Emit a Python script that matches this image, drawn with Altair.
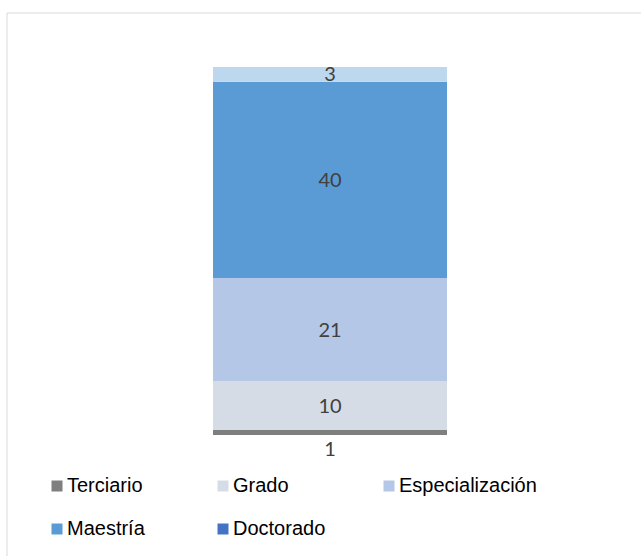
import altair as alt
import pandas as pd

categories = ["Terciario", "Grado", "Especialización", "Maestría", "Otro"]
values = [1, 10, 21, 40, 3]
legend_names = ["Terciario", "Grado", "Especialización", "Maestría", "Doctorado"]
domain = ["Terciario", "Grado", "Especialización", "Maestría", "Doctorado", "Otro"]
colors = ["#7F7F7F", "#D6DCE5", "#B4C7E7", "#5B9BD5", "#4472C4", "#BDD7EE"]

df = pd.DataFrame({"cat": categories, "value": values, "ord": list(range(len(categories)))})

base = (
    alt.Chart(df)
    .transform_calculate(grp="'all'")
    .transform_stack(stack="value", groupby=["grp"],
                     sort=[alt.SortField("ord", order="ascending")], as_=["y0", "y1"])
    .transform_calculate(mid="(datum.y0 + datum.y1) / 2")
)

xenc = alt.X("grp:N", axis=None, scale=alt.Scale(paddingInner=0, paddingOuter=0))
yscale = alt.Scale(domain=[0, 75], nice=False, zero=True)

bars = base.mark_bar(strokeWidth=0).encode(
    x=xenc,
    y=alt.Y("y0:Q", axis=None, scale=yscale),
    y2="y1:Q",
    color=alt.Color(
        "cat:N",
        scale=alt.Scale(domain=domain, range=colors),
        legend=alt.Legend(
            values=legend_names, title=None, orient="none",
            legendX=-166, legendY=409, columns=3, direction="horizontal",
            labelFont="Liberation Sans", labelFontSize=20, labelColor="#000000",
            symbolType="square", symbolSize=121, symbolStrokeWidth=0,
            labelOffset=0, columnPadding=8, rowPadding=23, gridAlign="all",
            labelLimit=300,
        ),
    ),
)

labels = base.transform_filter("datum.value >= 2").mark_text(
    font="Lato", fontSize=20, color="#404040", baseline="middle", align="center", dy=1
).encode(x=xenc, y=alt.Y("mid:Q", scale=yscale), text="value:Q")

low_label = base.transform_filter("datum.value < 2").mark_text(
    font="Lato", fontSize=20, color="#404040", baseline="middle", align="center", dy=15
).encode(x=xenc, y=alt.Y("y0:Q", scale=yscale), text="value:Q")

frame_df = pd.DataFrame({"a": [0]})
top_rule = alt.Chart(frame_df).mark_rule(color="#D9D9D9", strokeWidth=1).encode(
    x=alt.value(-206), x2=alt.value(428), y=alt.value(-54)
)
left_rule = alt.Chart(frame_df).mark_rule(color="#D9D9D9", strokeWidth=1).encode(
    x=alt.value(-206), y=alt.value(-54), y2=alt.value(489)
)

chart = (
    alt.layer(top_rule, left_rule, bars, labels, low_label)
    .properties(
        width=234, height=368,
        padding={"left": 213, "top": 67, "right": 194, "bottom": 121},
        autosize=alt.AutoSizeParams(type="none"),
        background="white",
    )
    .configure_view(stroke=None)
)

chart.save("out.html", embed_options={"renderer": "svg", "actions": False})
